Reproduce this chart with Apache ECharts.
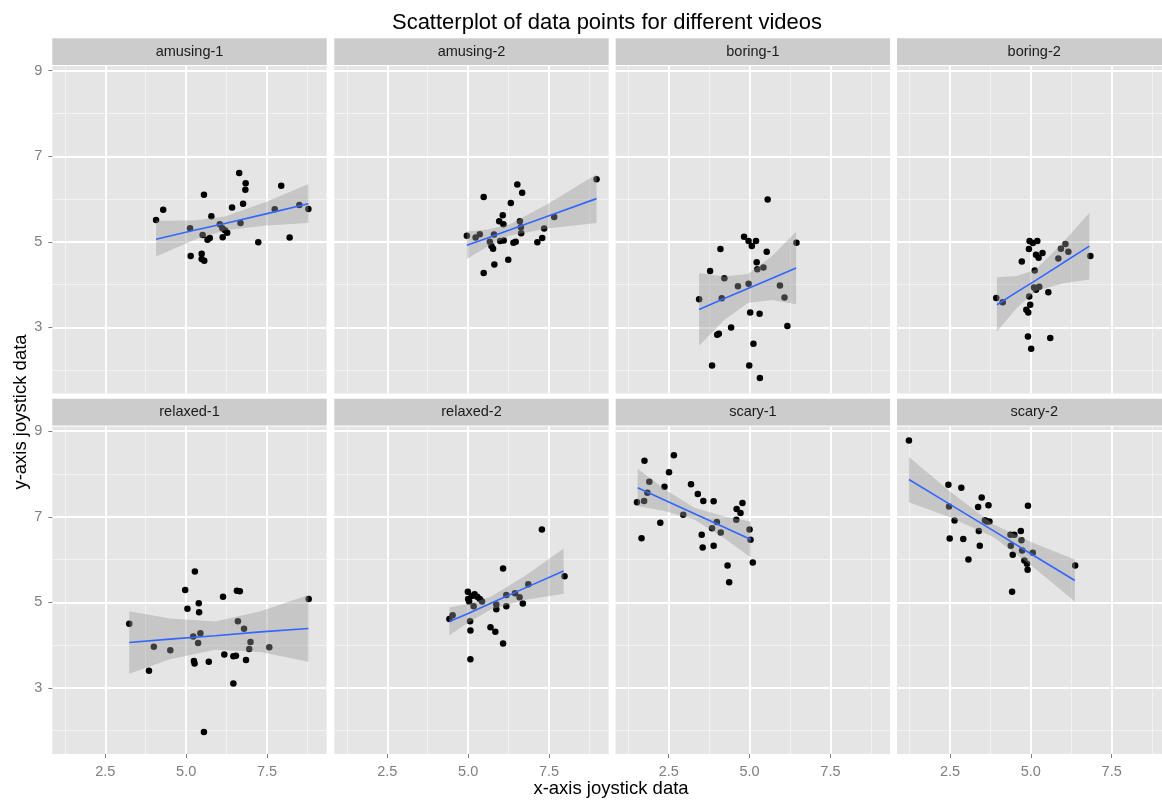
<!DOCTYPE html>
<html><head><meta charset="utf-8">
<script src="https://cdn.jsdelivr.net/npm/echarts@6/dist/echarts.min.js"></script>
<style>html,body{margin:0;padding:0;background:#fff}#c{width:1162px;height:801px}</style>
</head><body><div id="c"></div>
<script>
// ---------- data ----------
const panelNames = ['amusing-1','amusing-2','boring-1','boring-2','relaxed-1','relaxed-2','scary-1','scary-2'];

const amusing1X = [4.07,4.29,5.12,5.14,5.48,5.48,5.56,5.55,5.78,5.51,5.66,5.73,6.04,6.12,6.13,6.20,6.27,6.42,6.64,6.68,6.76,6.84,6.83,7.23,7.74,7.94,8.20,8.50,8.78];
const amusing1Y = [5.51,5.75,5.32,4.67,4.72,4.60,4.56,6.10,5.60,5.16,5.05,5.09,5.41,5.32,5.11,5.27,5.21,5.80,6.61,5.44,5.89,6.37,6.22,4.99,5.76,6.31,5.10,5.86,5.77];
const amusing2X = [4.96,5.23,5.36,5.48,5.48,5.67,5.72,5.77,5.80,5.81,5.96,5.99,6.07,6.09,6.10,6.24,6.32,6.40,6.47,6.52,6.60,6.63,6.64,6.67,7.14,7.29,7.35,7.66,8.97];
const amusing2Y = [5.14,5.10,5.18,6.05,4.27,5.00,4.90,4.84,5.17,4.47,5.48,5.02,5.62,5.41,5.03,4.58,5.91,4.98,5.00,6.34,5.48,5.34,5.20,6.15,4.99,5.09,5.31,5.58,6.46];
const boring1X = [3.44,3.78,3.84,4.00,4.05,4.10,4.14,4.22,4.43,4.64,4.83,4.97,4.97,4.99,5.02,5.07,5.12,5.20,5.22,5.24,5.32,5.31,5.43,5.53,5.56,5.94,6.08,6.17,6.45];
const boring1Y = [3.66,4.32,2.11,2.83,2.85,4.83,3.68,4.15,3.00,3.96,5.12,4.02,5.02,2.11,3.35,4.90,2.62,5.02,4.52,4.36,1.82,3.32,4.40,4.77,5.99,3.98,3.70,3.03,4.98];
const boring2X = [3.93,4.13,4.72,4.86,4.91,4.92,4.94,4.95,4.96,4.98,5.01,5.06,5.12,5.10,5.16,5.20,5.24,5.16,5.26,5.36,5.54,5.60,5.85,5.93,6.07,6.16,6.84];
const boring2Y = [3.69,3.59,4.54,3.41,2.79,3.35,4.83,3.72,5.02,3.53,2.50,4.97,4.33,3.93,4.70,5.02,4.63,3.88,3.95,4.74,3.82,2.75,4.61,4.84,4.95,4.77,4.67];
const relaxed1X = [3.24,3.85,4.00,4.51,4.97,5.04,5.22,5.27,5.24,5.26,5.37,5.39,5.40,5.44,5.55,5.70,6.14,6.18,6.46,6.46,6.54,6.57,6.66,6.60,6.79,6.85,6.95,6.99,7.57,8.79];
const relaxed1Y = [4.50,3.40,3.96,3.88,5.29,4.85,4.20,5.72,3.63,3.57,4.05,4.98,4.77,4.28,1.97,3.61,5.13,3.78,3.74,3.10,3.75,5.27,5.26,4.56,4.38,3.65,3.91,4.07,3.95,5.08];
const relaxed2X = [4.42,4.52,4.99,5.00,5.03,5.06,5.07,5.07,5.11,5.17,5.20,5.28,5.36,5.43,5.69,5.84,5.87,5.87,6.08,6.08,6.18,6.18,6.45,6.59,6.69,6.86,7.28,7.98];
const relaxed2Y = [4.61,4.70,5.25,5.08,5.02,4.56,4.34,3.67,5.15,4.91,5.19,5.13,5.08,5.02,4.42,4.31,4.95,4.84,5.79,4.04,5.17,4.91,5.21,5.12,4.97,5.42,6.70,5.61];
const scary1X = [1.52,1.66,1.74,1.75,1.84,1.90,2.24,2.37,2.51,2.66,2.95,3.19,3.40,3.52,3.55,3.57,3.84,3.89,3.89,3.99,4.11,4.32,4.37,4.59,4.60,4.72,4.78,5.00,5.03,5.10];
const scary1Y = [7.34,6.50,7.37,8.31,7.56,7.82,6.86,7.70,8.04,8.44,7.05,7.76,7.53,6.58,6.28,7.37,6.73,7.36,6.32,6.88,6.63,5.86,5.47,6.93,7.18,7.09,7.32,6.70,6.46,5.93];
const scary2X = [1.23,2.45,2.47,2.49,2.64,2.85,2.91,3.07,3.37,3.39,3.42,3.48,3.58,3.64,3.69,3.72,4.37,4.38,4.44,4.42,4.49,4.69,4.71,4.73,4.80,4.88,4.91,4.90,5.06,6.37];
const scary2Y = [8.78,7.75,7.24,6.49,6.91,7.68,6.48,6.00,7.23,6.67,6.32,7.45,6.92,6.89,7.27,6.89,6.58,6.32,6.11,5.25,6.58,6.67,6.45,6.21,5.98,5.90,7.26,5.76,6.16,5.86];

// smoother (lm) line and 95% band, read at a few x positions
const amusing1FitX = [4.07,5.25,6.2,7.5,8.78], amusing1FitY = [5.06,5.27,5.43,5.66,5.89];
const amusing1Lo = [4.66,5.04,5.27,5.38,5.44], amusing1Hi = [5.49,5.50,5.59,5.94,6.35];
const amusing2FitX = [4.96,5.6,6.3,7.5,8.97], amusing2FitY = [4.92,5.09,5.28,5.61,6.01];
const amusing2Lo = [4.60,4.89,5.15,5.32,5.44], amusing2Hi = [5.24,5.29,5.41,5.90,6.58];
const boring1FitX = [3.44,4.2,4.95,5.7,6.44], boring1FitY = [3.42,3.67,3.91,4.15,4.39];
const boring1Lo = [2.57,3.16,3.57,3.64,3.54], boring1Hi = [4.27,4.19,4.25,4.67,5.24];
const boring2FitX = [3.95,4.55,5.15,6.0,6.81], boring2FitY = [3.53,3.82,4.10,4.51,4.90];
const boring2Lo = [2.90,3.44,3.85,4.03,4.12], boring2Hi = [4.17,4.20,4.35,4.99,5.68];
const relaxed1FitX = [3.24,4.5,5.9,7.3,8.78], relaxed1FitY = [4.06,4.14,4.22,4.31,4.39];
const relaxed1Lo = [3.33,3.67,3.89,3.84,3.61], relaxed1Hi = [4.79,4.62,4.55,4.79,5.17];
const relaxed2FitX = [4.42,5.0,5.7,6.8,7.95], relaxed2FitY = [4.55,4.74,4.98,5.35,5.73];
const relaxed2Lo = [4.23,4.52,4.83,5.06,5.20], relaxed2Hi = [4.88,4.96,5.13,5.64,6.26];
const scary1FitX = [1.54,2.4,3.3,4.2,5.04], scary1FitY = [7.68,7.38,7.07,6.76,6.47];
const scary1Lo = [7.25,7.13,6.93,6.51,6.05], scary1Hi = [8.12,7.63,7.21,7.01,6.89];
const scary2FitX = [1.23,2.5,3.85,5.1,6.36], scary2FitY = [7.87,7.29,6.67,6.09,5.51];
const scary2Lo = [7.34,6.99,6.52,5.81,5.02], scary2Hi = [8.40,7.59,6.82,6.38,6.00];

const xTicks = [2.5, 5, 7.5], xTickLabels = ['2.5','5.0','7.5'];
const yTicks = [3, 5, 7, 9], yTickLabels = ['3','5','7','9'];
const xMinor = [1.25, 3.75, 6.25, 8.75];
const yMinor = [2, 4, 6, 8];
const xRange = [0.861, 9.346];
const yRange = [1.455, 9.11];

const titleText = 'Scatterplot of data points for different videos';
const xTitle = 'x-axis joystick data';
const yTitle = 'y-axis joystick data';

// ---------- layout ----------
const COL_LEFT = [52.3, 334.3, 615.7, 897];
const PANEL_W = 274.4;
const ROW_TOP = [66, 426.5];
const PANEL_H = 327.5;
const STRIP_H = 26.7;
const FONT = '"Liberation Sans", Arial, Helvetica, sans-serif';

const panels = [
  {x: amusing1X, y: amusing1Y, fx: amusing1FitX, fy: amusing1FitY, lo: amusing1Lo, hi: amusing1Hi},
  {x: amusing2X, y: amusing2Y, fx: amusing2FitX, fy: amusing2FitY, lo: amusing2Lo, hi: amusing2Hi},
  {x: boring1X, y: boring1Y, fx: boring1FitX, fy: boring1FitY, lo: boring1Lo, hi: boring1Hi},
  {x: boring2X, y: boring2Y, fx: boring2FitX, fy: boring2FitY, lo: boring2Lo, hi: boring2Hi},
  {x: relaxed1X, y: relaxed1Y, fx: relaxed1FitX, fy: relaxed1FitY, lo: relaxed1Lo, hi: relaxed1Hi},
  {x: relaxed2X, y: relaxed2Y, fx: relaxed2FitX, fy: relaxed2FitY, lo: relaxed2Lo, hi: relaxed2Hi},
  {x: scary1X, y: scary1Y, fx: scary1FitX, fy: scary1FitY, lo: scary1Lo, hi: scary1Hi},
  {x: scary2X, y: scary2Y, fx: scary2FitX, fy: scary2FitY, lo: scary2Lo, hi: scary2Hi}
];

const grids = [], xAxes = [], yAxes = [], series = [], graphics = [];

panels.forEach((p, i) => {
  const r = Math.floor(i / 4), c = i % 4;
  grids.push({left: COL_LEFT[c], top: ROW_TOP[r], width: PANEL_W, height: PANEL_H,
    show: true, backgroundColor: '#E5E5E5', borderWidth: 0, containLabel: false, outerBoundsMode: 'none'});
  // minor axes
  xAxes.push({type: 'value', gridIndex: i, position: 'bottom', min: xRange[0], max: xRange[1], z: 0,
    axisLine: {show: false}, axisTick: {show: false, customValues: xMinor},
    axisLabel: {show: false, customValues: xMinor},
    splitLine: {show: true, lineStyle: {color: '#F2F2F2', width: 1}}});
  yAxes.push({type: 'value', gridIndex: i, position: 'left', min: yRange[0], max: yRange[1], z: 0,
    axisLine: {show: false}, axisTick: {show: false, customValues: yMinor},
    axisLabel: {show: false, customValues: yMinor},
    splitLine: {show: true, lineStyle: {color: '#F2F2F2', width: 1}}});
  // major axes
  xAxes.push({type: 'value', gridIndex: i, position: 'bottom', min: xRange[0], max: xRange[1], z: 1,
    axisLine: {show: false},
    axisTick: {show: r === 1, customValues: xTicks, length: 4, lineStyle: {color: '#7F7F7F', width: 1}},
    axisLabel: {show: r === 1, customValues: xTicks, margin: 10, color: '#7F7F7F', fontSize: 14.5, fontFamily: FONT,
      formatter: v => xTickLabels[xTicks.indexOf(v)]},
    splitLine: {show: true, lineStyle: {color: '#FFFFFF', width: 1.8}}});
  yAxes.push({type: 'value', gridIndex: i, position: 'left', min: yRange[0], max: yRange[1], z: 1,
    axisLine: {show: false},
    axisTick: {show: c === 0, customValues: yTicks, length: 4, lineStyle: {color: '#7F7F7F', width: 1}},
    axisLabel: {show: c === 0, customValues: yTicks, margin: 10, color: '#7F7F7F', fontSize: 14.5, fontFamily: FONT,
      formatter: v => yTickLabels[yTicks.indexOf(v)]},
    splitLine: {show: true, lineStyle: {color: '#FFFFFF', width: 1.8}}});

  const xi = 2 * i + 1, yi = 2 * i + 1;
  series.push({type: 'scatter', xAxisIndex: xi, yAxisIndex: yi, z: 2, silent: true,
    symbol: 'circle', symbolSize: 6.5, itemStyle: {color: '#000000', opacity: 1},
    data: p.x.map((v, k) => [v, p.y[k]])});
  series.push({type: 'custom', xAxisIndex: xi, yAxisIndex: yi, z: 3, silent: true,
    data: p.fx.map((v, k) => [v, p.lo[k], p.hi[k]]),
    encode: {x: 0, y: [1, 2]},
    renderItem: (params, api) => {
      if (params.dataIndex !== 0) return null;
      const pts = [];
      for (let k = 0; k < p.fx.length; k++) pts.push(api.coord([p.fx[k], p.hi[k]]));
      for (let k = p.fx.length - 1; k >= 0; k--) pts.push(api.coord([p.fx[k], p.lo[k]]));
      return {type: 'polygon', shape: {points: pts}, style: {fill: 'rgba(153,153,153,0.4)', stroke: null}};
    }});
  series.push({type: 'line', xAxisIndex: xi, yAxisIndex: yi, z: 4, silent: true,
    symbol: 'none', lineStyle: {color: '#3366FF', width: 1.6},
    data: p.fx.map((v, k) => [v, p.fy[k]])});

  // strip
  const sTop = ROW_TOP[r] - STRIP_H - 1;
  graphics.push({type: 'rect', shape: {x: COL_LEFT[c], y: sTop, width: PANEL_W, height: STRIP_H},
    style: {fill: '#CCCCCC'}, silent: true});
  graphics.push({type: 'text', x: COL_LEFT[c] + PANEL_W / 2, y: sTop + STRIP_H / 2, silent: true,
    style: {text: panelNames[i], fill: '#1A1A1A', fontSize: 14.5, fontFamily: FONT,
      align: 'center', verticalAlign: 'middle', textAlign: 'center', textVerticalAlign: 'middle'}});
});

graphics.push({type: 'text', x: 607, y: 23, silent: true,
  style: {text: titleText, fill: '#000000', fontSize: 22, fontFamily: FONT,
    align: 'center', verticalAlign: 'middle', textAlign: 'center', textVerticalAlign: 'middle'}});
graphics.push({type: 'text', x: 611, y: 789, silent: true,
  style: {text: xTitle, fill: '#000000', fontSize: 18.5, fontFamily: FONT,
    align: 'center', verticalAlign: 'middle', textAlign: 'center', textVerticalAlign: 'middle'}});
graphics.push({type: 'text', x: 20.5, y: 412, rotation: Math.PI / 2, silent: true,
  style: {text: yTitle, fill: '#000000', fontSize: 18.5, fontFamily: FONT,
    align: 'center', verticalAlign: 'middle', textAlign: 'center', textVerticalAlign: 'middle'}});

const chart = echarts.init(document.getElementById('c'), null, {renderer: 'canvas'});
chart.setOption({
  animation: false,
  backgroundColor: '#FFFFFF',
  grid: grids,
  xAxis: xAxes,
  yAxis: yAxes,
  series: series,
  graphic: {elements: graphics}
});
</script>
</body></html>
